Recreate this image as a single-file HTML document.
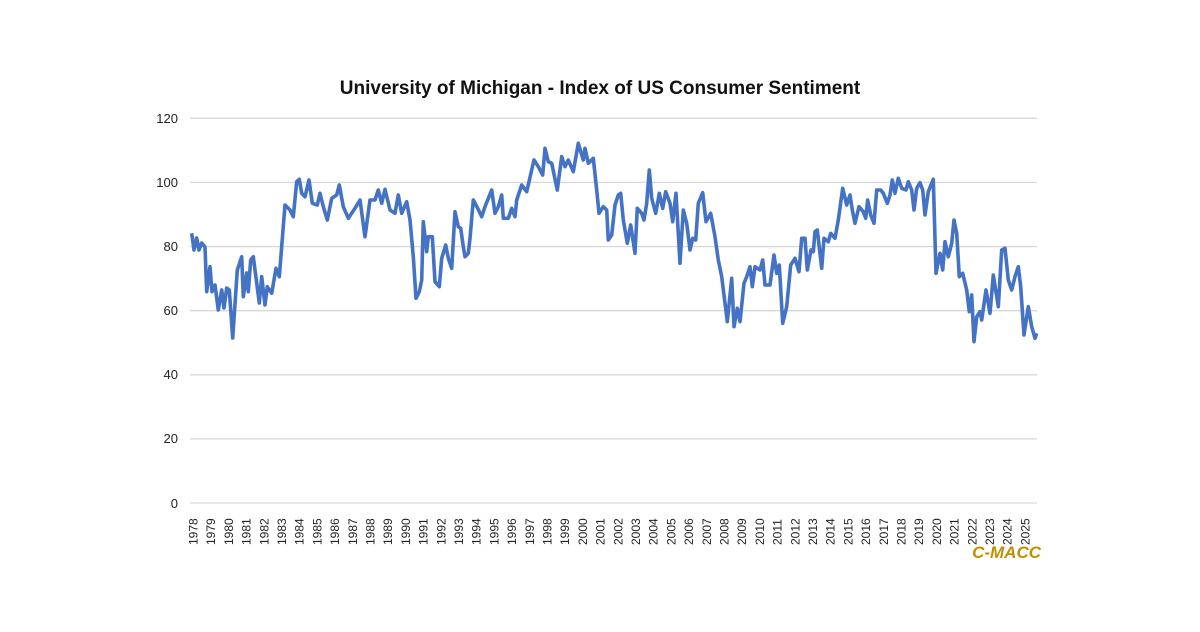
<!DOCTYPE html>
<html><head><meta charset="utf-8"><style>
body{margin:0;background:#fff}
svg text{font-family:"Liberation Sans",sans-serif;fill:#222}
</style></head><body>
<svg width="1200" height="627" viewBox="0 0 1200 627" xmlns="http://www.w3.org/2000/svg">
<rect width="1200" height="627" fill="#fff"/>
<text x="600" y="94" text-anchor="middle" font-size="19" font-weight="bold" style="fill:#111">University of Michigan - Index of US Consumer Sentiment</text>
<g stroke="#d9d9d9" stroke-width="1.3">
<line x1="190" x2="1037" y1="118.3" y2="118.3"/>
<line x1="190" x2="1037" y1="182.4" y2="182.4"/>
<line x1="190" x2="1037" y1="246.6" y2="246.6"/>
<line x1="190" x2="1037" y1="310.7" y2="310.7"/>
<line x1="190" x2="1037" y1="374.8" y2="374.8"/>
<line x1="190" x2="1037" y1="438.9" y2="438.9"/>
<line x1="190" x2="1037" y1="503" y2="503"/>
</g>
<g font-size="13" text-anchor="end">
<text x="178" y="123">120</text><text x="178" y="187">100</text><text x="178" y="251">80</text>
<text x="178" y="315">60</text><text x="178" y="379">40</text><text x="178" y="443">20</text><text x="178" y="508">0</text>
</g>
<g font-size="12" id="xl"></g>
<polyline fill="none" stroke="#4472c4" stroke-width="3.6" stroke-linejoin="round" points="191.7,233.3 194,250 196.7,238 199,250 201.7,243 205,247 206.7,291.7 210,266.7 212,291.7 215,285 218.3,310 221.7,290 224,308 226.7,288 229.3,290 232.7,338 237.3,270 241.7,256.7 243.3,296.7 246.7,273 248.3,291.7 250.7,260 253.3,256.7 259.3,303 261.7,276.7 265,305 267.3,286.7 271.7,293.3 276,268.3 279.3,276.7 285,205 290,210 293.3,216.7 296.7,181.7 299.3,179.3 301.7,193.3 305,196.7 309,180 312.3,203.3 317.3,205 320,193.3 323.3,206.7 327.3,220 331.7,198.3 336.7,195 339.3,185 343.3,206.7 348.3,218.3 355,208.3 360,200 365,236.7 370,200 375,200 378.3,190 381.7,203.3 385,189.3 390,210 395,213.3 398.3,195 401.7,213.3 406.7,201.7 410,220 413.3,256.7 416,298.3 419.3,291.7 421.7,280 423.3,221.7 426.7,251.7 428.3,236.7 432.3,236.7 435,281.7 439.3,286.7 441.7,258.3 445.7,245 448.3,258.3 451.7,268.3 455,211.7 458.3,226.7 460.7,228.3 463.3,246.7 465,256.7 468.3,253.3 470,238.3 473.3,200 477.7,208.3 481.7,216.7 485,206.7 491.7,190 495,213.3 498.3,206.7 501.7,195 503.3,218.3 508.3,218.3 511.7,208.3 515,216.7 516.7,200 521.7,185 526.7,191.7 534,160 538.3,166.7 542.7,175 545,148.3 548.3,161.7 551.7,163.3 557.3,190 561.7,156.7 565,166.7 568.3,160 573.3,171.7 578.3,143.3 583.3,160 585,148.3 588.3,163.3 593.3,158.3 596.7,190 599,213.3 603.3,206.7 606.7,210 608.3,240 611.7,235 615,205 618.3,195 620.7,193.3 623.3,220 627.3,243.3 630.7,225 635,253.3 637.3,208.3 641.7,213.3 644,220 646.7,203.3 649.3,170 651.7,198.3 655.7,213.3 659.3,193.3 662.7,208.3 665.7,191.7 670,203.3 672.7,221.7 676,193.3 680,263.3 683.3,210 686.7,223.3 690,250 692.7,238.3 695.7,240 698.3,203.3 702.7,192.7 706,221.7 710.7,213.3 715,236.7 718.3,260 721.7,276.7 727.3,321.7 731.7,278.3 734,326.7 737.3,308.3 740,321.7 744,283.3 746.7,276.7 750,266.7 752.3,286.7 755,266.7 760,270 762.7,260 765,285 770,285 774,255 776.7,273.3 779.3,265 782.7,323.3 786.7,306.7 790.7,265 795,258.3 799,271.7 801.7,238.3 805,238.3 807.3,270 811,250 813.3,251.7 815,231.7 817.3,230 821.7,268.3 824,238.3 828.3,241.7 830.7,233.3 835,238.3 838.3,220 842.7,188.3 846.7,205 850,195 852.3,210 855,223.3 859,206.7 863.3,211.7 865.7,218.3 867.7,200 870.7,215 874,223.3 876.7,190 880.7,190 883.3,193.3 887.3,203.3 890,195 892.3,180 895,193.3 898.3,178.3 901.7,188.3 906,190 908.3,181.7 911.7,190 914,210 916.7,188.3 920,182.7 922.7,190 925,215 928.3,191.7 933.3,179.3 936,273.3 940,253.3 942.7,270 945,241.7 948.3,256.7 951.7,243.3 954,220 956.7,233.3 959.3,276.7 962.7,273.3 966.7,290 969.3,311.7 971.7,295 974,341.7 976.7,316.7 980,311.7 981.7,320 986,290 990,313.3 993.3,275 998.3,306.7 1001.7,250 1005,248.3 1008.3,280 1011.7,290 1015,276.7 1018.3,266.7 1020.7,286.7 1024,335 1028.3,306.7 1031.7,326.7 1035,338.3 1036.7,333.3"/>
<text x="1041" y="558" text-anchor="end" font-size="17" font-weight="bold" font-style="italic" style="fill:#bf9000">C-MACC</text>
</svg>
<script>
var g=document.getElementById('xl'),s='';
for(var i=0;i<48;i++){var x=193+i*17.7+4.5;var y=545;s+='<text transform="translate('+x.toFixed(1)+','+y+') rotate(-90)">'+(1978+i)+'</text>';}
g.innerHTML=s;
</script>
</body></html>
